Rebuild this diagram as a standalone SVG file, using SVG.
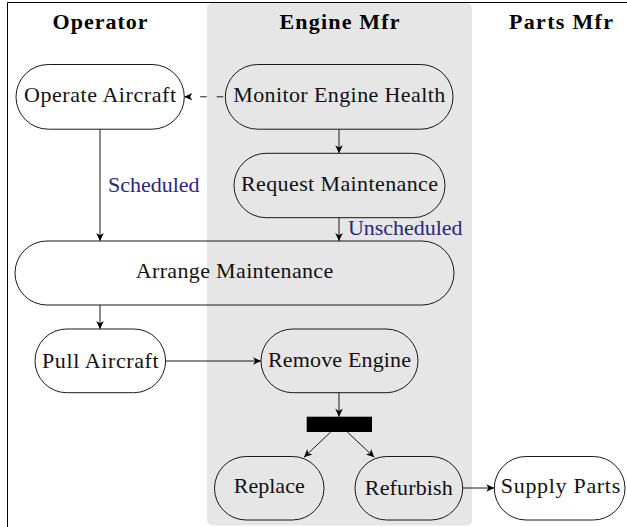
<svg xmlns="http://www.w3.org/2000/svg" width="627" height="527" viewBox="0 0 627 527">
  <style>
    .lane { fill: #e6e6e6; }
    .frame { fill: none; stroke: #000; stroke-width: 1; }
    .node { fill: none; stroke: #000; stroke-width: 0.9; }
    .txt { font-family: "Liberation Serif", "DejaVu Serif", serif; font-size: 22px; fill: #111; text-anchor: middle; }
    .head { font-family: "Liberation Serif", "DejaVu Serif", serif; font-size: 22px; font-weight: bold; fill: #000; text-anchor: middle; }
    .lbl { font-family: "Liberation Serif", "DejaVu Serif", serif; font-size: 22px; fill: #27277f; }
    .edge { fill: none; stroke: #000; stroke-width: 0.9; marker-end: url(#stealth); }
    .dashed { stroke-dasharray: 6.6 10; }
    .bar { fill: #000; }
  </style>
  <defs>
    <marker id="stealth" markerUnits="userSpaceOnUse" markerWidth="10" markerHeight="10" viewBox="-9 -5 10 10" refX="0" refY="0" orient="auto">
      <path d="M0,0 L-8,-3.8 L-5.8,0 L-8,3.8 Z" fill="#000"/>
    </marker>
  </defs>

  <!-- swimlane background and frame -->
  <rect class="lane" x="207" y="3" width="265" height="522.5" rx="5"/>
  <path class="frame" d="M7.5,530 V2.5 H630"/>

  <!-- lane headings -->
  <text class="head" x="100" y="29" textLength="95" lengthAdjust="spacing">Operator</text>
  <text class="head" x="339.5" y="29" textLength="120" lengthAdjust="spacing">Engine Mfr</text>
  <text class="head" x="561" y="29" textLength="104" lengthAdjust="spacing">Parts Mfr</text>

  <!-- connectors -->
  <g id="connectors">
    <path class="edge dashed" d="M223.3,96.8 H184.3"/>
    <path class="edge" d="M339,129.2 V153.3"/>
    <path class="edge" d="M100,129.3 V241"/>
    <path class="edge" d="M339,217.7 V241"/>
    <path class="edge" d="M100,305 V329"/>
    <path class="edge" d="M165.6,361 H261"/>
    <path class="edge" d="M339,392.7 V416.7"/>
    <path class="edge" d="M330.7,432 L304,457.3"/>
    <path class="edge" d="M347.3,432 L374.3,457.3"/>
    <path class="edge" d="M462.7,488 H494.3"/>
    <text class="lbl" x="108" y="191.5" textLength="91.5" lengthAdjust="spacing">Scheduled</text>
    <text class="lbl" x="348" y="235" textLength="114.5" lengthAdjust="spacing">Unscheduled</text>
  </g>

  <!-- activity nodes -->
  <g id="operate-aircraft">
    <rect class="node" x="16" y="64.5" width="168.3" height="64.7" rx="32.3"/>
    <text class="txt" x="100" y="101.5" textLength="152" lengthAdjust="spacing">Operate Aircraft</text>
  </g>
  <g id="monitor-engine-health">
    <rect class="node" x="225.3" y="64.5" width="227.7" height="64.7" rx="32.3"/>
    <text class="txt" x="339.2" y="101.5" textLength="212" lengthAdjust="spacing">Monitor Engine Health</text>
  </g>
  <g id="request-maintenance">
    <rect class="node" x="234" y="153.3" width="211" height="64.4" rx="32.2"/>
    <text class="txt" x="339.5" y="190.5" textLength="197" lengthAdjust="spacing">Request Maintenance</text>
  </g>
  <g id="arrange-maintenance">
    <rect class="node" x="15" y="241" width="439" height="64" rx="32"/>
    <text class="txt" x="234.5" y="278.3" textLength="197.5" lengthAdjust="spacing">Arrange Maintenance</text>
  </g>
  <g id="pull-aircraft">
    <rect class="node" x="35" y="329" width="130.6" height="63.7" rx="31.8"/>
    <text class="txt" x="100.3" y="368.3" textLength="116.6" lengthAdjust="spacing">Pull Aircraft</text>
  </g>
  <g id="remove-engine">
    <rect class="node" x="261" y="329" width="157" height="63.7" rx="31.8"/>
    <text class="txt" x="339.5" y="366.5" textLength="143" lengthAdjust="spacing">Remove Engine</text>
  </g>
  <g id="fork">
    <rect class="bar" x="306.7" y="416.7" width="65.3" height="15.3"/>
  </g>
  <g id="replace">
    <rect class="node" x="214.5" y="456.5" width="109.5" height="63.5" rx="31.7"/>
    <text class="txt" x="269.2" y="493.3" textLength="71" lengthAdjust="spacing">Replace</text>
  </g>
  <g id="refurbish">
    <rect class="node" x="355" y="456.5" width="107.7" height="63.5" rx="31.7"/>
    <text class="txt" x="408.8" y="495" textLength="88" lengthAdjust="spacing">Refurbish</text>
  </g>
  <g id="supply-parts">
    <rect class="node" x="494.3" y="456.5" width="130.7" height="63.5" rx="31.7"/>
    <text class="txt" x="560.5" y="493" textLength="119.5" lengthAdjust="spacing">Supply Parts</text>
  </g>
</svg>
